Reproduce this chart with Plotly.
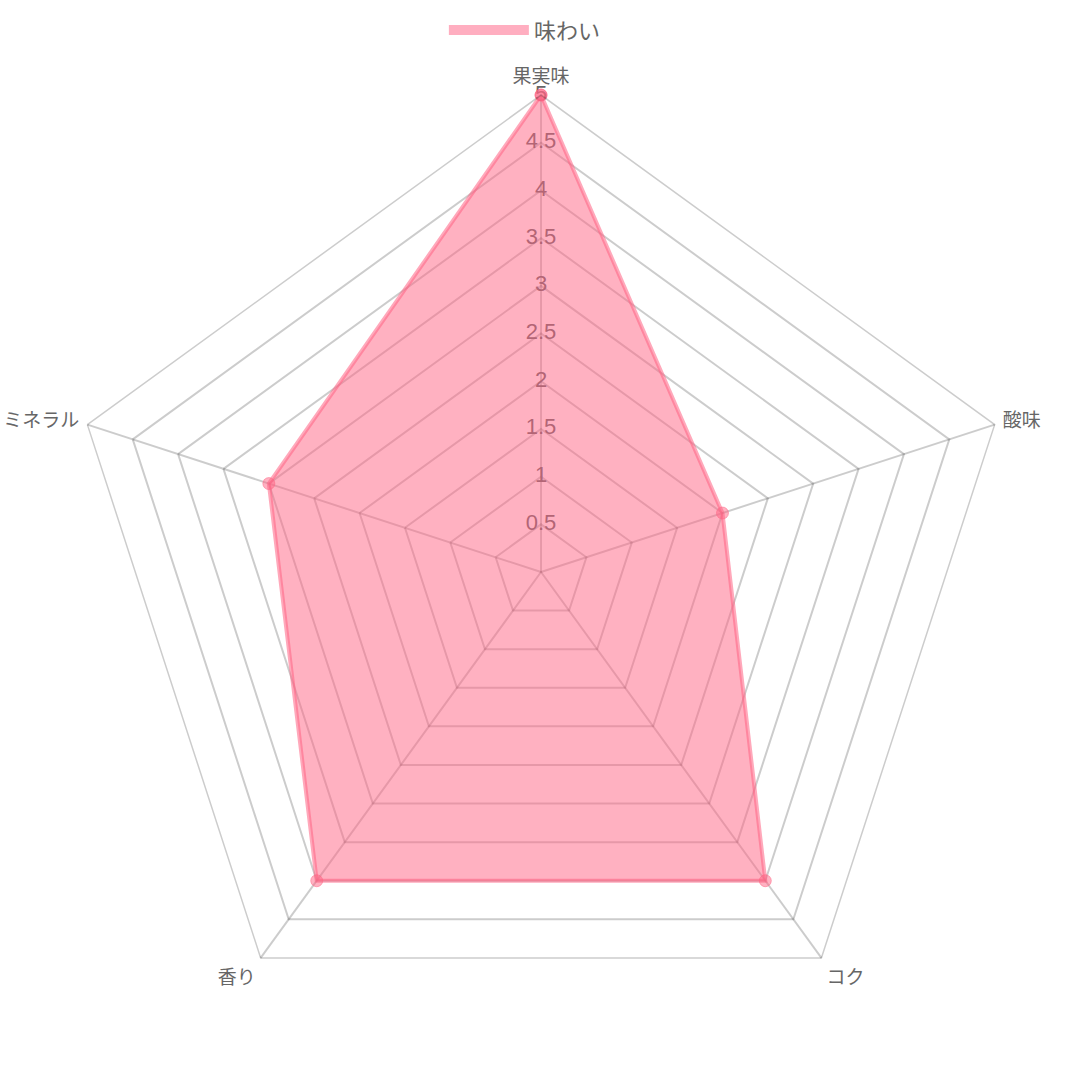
import plotly.graph_objects as go

categories = ["果実味", "酸味", "コク", "香り", "ミネラル"]
values = [5, 2, 4, 4, 3]
series_name = "味わい"
tick_values = [0.5, 1, 1.5, 2, 2.5, 3, 3.5, 4, 4.5, 5]
tick_labels = ["0.5", "1", "1.5", "2", "2.5", "3", "3.5", "4", "4.5", "5"]

FONT = "Liberation Sans, Noto Sans CJK JP, sans-serif"
GRID = "rgba(0,0,0,0.2)"
FILL = "rgba(255,99,132,0.5)"
EDGE = "rgba(255,99,132,0.55)"

fig = go.Figure()

# radial tick labels along the first spoke (drawn under the data fill)
fig.add_trace(go.Scatterpolar(
    r=tick_values,
    theta=[categories[0]] * len(tick_values),
    mode="text",
    text=tick_labels,
    textposition="middle center",
    textfont=dict(size=22, color="#666666", family=FONT),
    showlegend=False,
    hoverinfo="skip",
    cliponaxis=False,
))

fig.add_trace(go.Scatterpolar(
    r=values + [values[0]],
    theta=categories + [categories[0]],
    name=series_name,
    mode="lines+markers",
    fill="toself",
    fillcolor=FILL,
    line=dict(color=EDGE, width=4),
    marker=dict(size=12, color=FILL, line=dict(color=FILL, width=1)),
    cliponaxis=False,
    showlegend=False,
    legendgroup="s",
))

# legend entry (box-like swatch) for the series
fig.add_trace(go.Scatterpolar(
    r=[None],
    theta=[None],
    name=series_name,
    mode="lines",
    line=dict(color="rgba(255,120,150,0.6)", width=22),
    showlegend=True,
    legendgroup="s",
    hoverinfo="skip",
))

fig.update_layout(
    width=1080,
    height=1080,
    margin=dict(l=0, r=0, t=0, b=0),
    paper_bgcolor="white",
    plot_bgcolor="white",
    font=dict(family=FONT, color="#666666"),
    showlegend=True,
    legend=dict(
        orientation="h",
        x=0.486, xanchor="center",
        y=0.972, yanchor="middle",
        font=dict(size=22, color="#666666", family=FONT),
        itemwidth=80,
    ),
    polar=dict(
        domain=dict(x=[0.0593, 0.9426], y=[0.0287, 0.912]),
        bgcolor="white",
        gridshape="linear",
        radialaxis=dict(
            range=[0, 5],
            tickvals=tick_values,
            showticklabels=False,
            ticks="",
            showline=False,
            gridcolor=GRID,
            gridwidth=1.5,
        ),
        angularaxis=dict(
            rotation=90,
            direction="clockwise",
            tickfont=dict(size=19, color="#666666", family=FONT),
            ticks="outside",
            ticklen=4,
            tickcolor="rgba(0,0,0,0)",
            showline=True,
            linecolor=GRID,
            linewidth=1.5,
            gridcolor=GRID,
            gridwidth=1.5,
        ),
    ),
)

fig.write_html("out.html")
